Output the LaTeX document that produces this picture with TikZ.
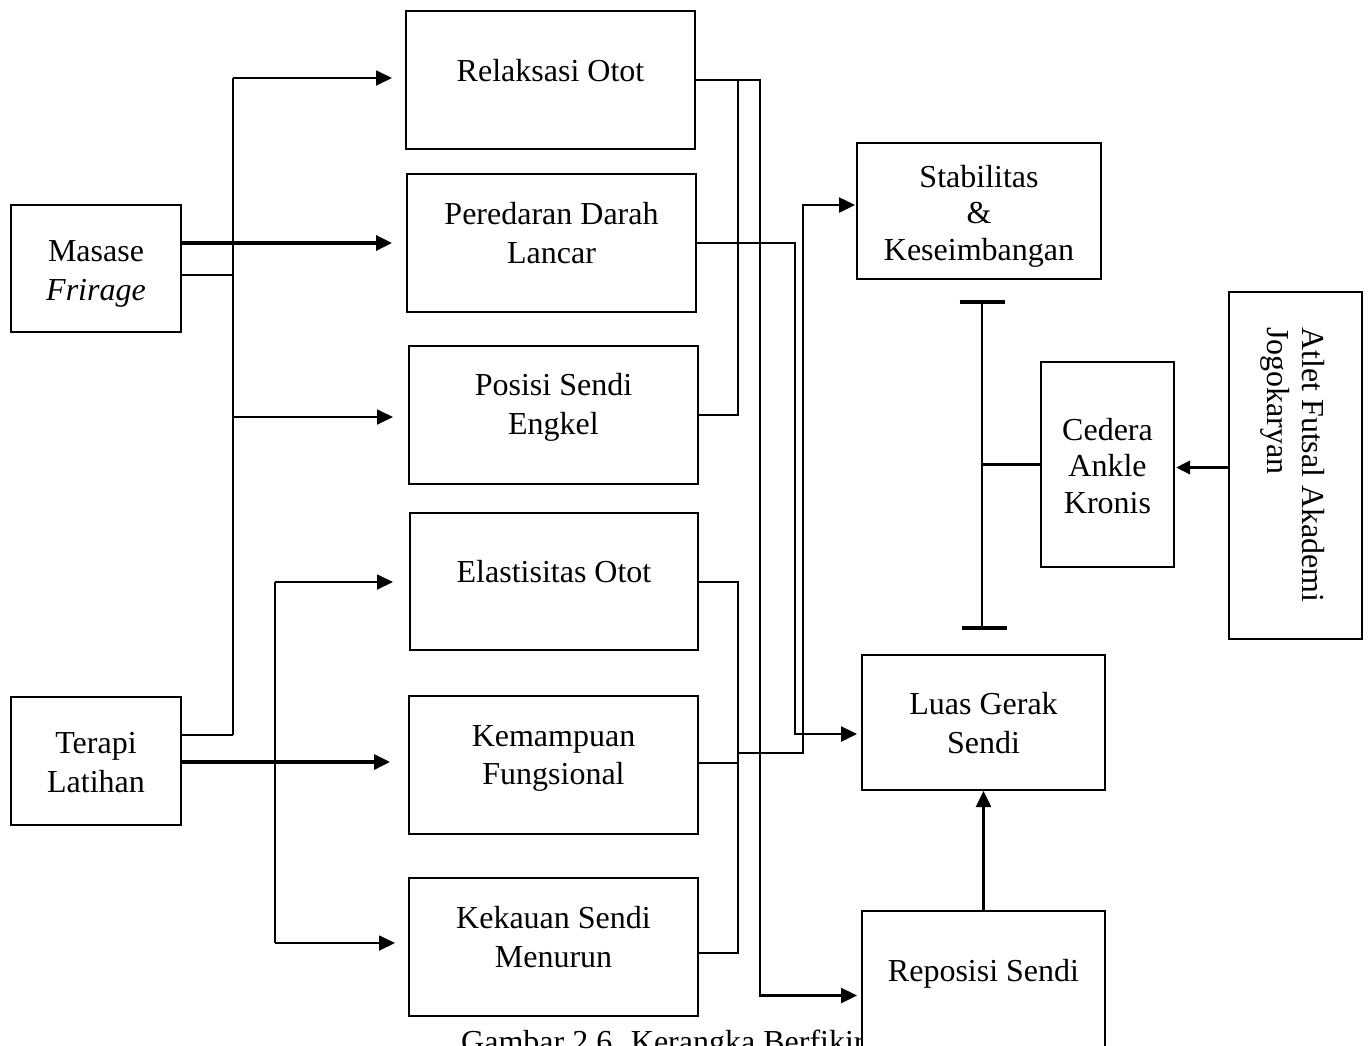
\documentclass[tikz,border=0pt]{standalone}
\usepackage{fontspec}
\setmainfont{Liberation Serif}
\usetikzlibrary{arrows.meta}
\tikzset{
  box/.style={draw, line width=2.8pt, fill=white, inner sep=0pt, outer sep=0pt},
  lbl/.style={font=\fontsize{32}{39}\selectfont, align=center, inner sep=0pt, anchor=base},
  lbltight/.style={font=\fontsize{32}{36.5}\selectfont, align=center, inner sep=0pt, anchor=base},
  thinconn/.style={line width=1.8pt},
  conn/.style={line width=2.5pt},
  thickconn/.style={line width=3.4pt},
  arr/.style={-{Triangle[length=16pt,width=15pt]}},
  tbar/.style={line width=4.5pt}
}
\begin{document}
\begin{tikzpicture}[x=1pt,y=-1pt]
\useasboundingbox (0,0) rectangle (1372,1045);
% caption (partly hidden, as in the source)
\node[font=\fontsize{32}{39}\selectfont, anchor=base west, inner sep=0pt] (cap) at (461,1052) {Gambar 2.6. Kerangka Berfikir};

% boxes
\node[box, minimum width=289pt, minimum height=138pt] (r1) at (550.5,80) {};
\node[box, minimum width=289pt, minimum height=138pt] (r2) at (551.5,243) {};
\node[box, minimum width=289pt, minimum height=138pt] (r3) at (553.5,415) {};
\node[box, minimum width=288pt, minimum height=137pt] (r4) at (554,581.5) {};
\node[box, minimum width=289pt, minimum height=138pt] (r5) at (553.5,765) {};
\node[box, minimum width=289pt, minimum height=138pt] (r6) at (553.5,947) {};
\node[box, minimum width=170pt, minimum height=127pt] (m) at (96,268.5) {};
\node[box, minimum width=170pt, minimum height=128pt] (t) at (96,761) {};
\node[box, minimum width=244pt, minimum height=136pt] (s) at (979,211) {};
\node[box, minimum width=133pt, minimum height=205pt] (c) at (1107.5,464.5) {};
\node[box, minimum width=133pt, minimum height=347pt] (a) at (1295.5,465.5) {};
\node[box, minimum width=243pt, minimum height=135pt] (l) at (983.5,722.5) {};
\node[box, minimum width=243pt, minimum height=169pt] (p) at (983.5,995.5) {};

% labels (anchor base = baseline of the last line)
\node[lbl] (tr1) at (550.5,81) {Relaksasi Otot};
\node[lbl] (tr2) at (551.5,263) {Peredaran Darah\\Lancar};
\node[lbl] (tr3) at (553.5,434) {Posisi Sendi\\Engkel};
\node[lbl] (tr4) at (554,582) {Elastisitas Otot};
\node[lbl, font=\fontsize{32}{38}\selectfont] (tr5) at (553.5,784) {Kemampuan\\Fungsional};
\node[lbl] (tr6) at (553.5,967) {Kekauan Sendi\\Menurun};
\node[lbl] (tm) at (96,300) {Masase\\\textit{Frirage}};
\node[lbl] (tt) at (96,792) {Terapi\\Latihan};
\node[lbltight] (ts) at (979,260) {Stabilitas\\\&\\Keseimbangan};
\node[lbltight] (tc) at (1107.5,513) {Cedera\\Ankle\\Kronis};
\node[lbl] (tl) at (983.5,753) {Luas Gerak\\Sendi};
\node[lbl] (tp) at (983.5,981) {Reposisi Sendi};
\node[font=\fontsize{32}{35.5}\selectfont, align=left, inner sep=0pt, anchor=base west, rotate=-90] (ta) at (1267,327) {Atlet Futsal Akademi\\Jogokaryan};

% left junction coordinates
\coordinate (jm) at (233,275);
\coordinate (v1a) at (233,78);
\coordinate (v1b) at (233,417);
\coordinate (v1c) at (233,735);
\coordinate (v2a) at (275,582);
\coordinate (v2b) at (275,943);

% Masase / Terapi connectors
\draw[thickconn, arr, shorten >=15pt] (m.east |- r2) -- (r2.west);
\draw[thinconn] ([yshift=-6.5pt]m.east) -- (jm);
\draw[thinconn] (v1a) -- (v1c);
\draw[thinconn, arr, shorten >=14pt] (v1a) -- (v1a -| r1.west);
\draw[thinconn, arr, shorten >=16pt] (v1b) -- (v1b -| r3.west);
\draw[thinconn] ([yshift=26pt]t.east) -- (v1c);
\draw[thickconn, arr, shorten >=19pt] ([yshift=-1pt]t.east) -- ([yshift=-1pt]t.east -| r5.west);
\draw[thinconn] (v2a) -- (v2b);
\draw[thinconn, arr, shorten >=17pt] (v2a) -- (v2a -| r4.west);
\draw[thinconn, arr, shorten >=14pt] (v2b) -- (v2b -| r6.west);

% right junction coordinates
\coordinate (k1) at (760,80);
\coordinate (k2) at (760,995.5);
\coordinate (u1) at (738,80);
\coordinate (u2) at (738,415);
\coordinate (q1) at (795,243);
\coordinate (q2) at (795,734);
\coordinate (w1) at (738,582);
\coordinate (w2) at (738,953);
\coordinate (w3) at (738,753);
\coordinate (w4) at (803,753);
\coordinate (w5) at (803,205);

\draw[conn, arr, shorten >=5pt] (r1.east) -- (k1) -- (k2) -- (p.west);
\draw[conn] (u1) -- (u2) -- (r3.east);
\draw[conn, arr, shorten >=5pt] (r2.east) -- (q1) -- (q2) -- (q2 -| l.west);
\draw[conn] ([yshift=-0.5pt]r4.east) -- (w1) -- (w2) -- ([yshift=-6pt]r6.east);
\draw[conn] ([yshift=2pt]r5.east) -- ([yshift=2pt]r5.east -| w1);
\draw[conn, arr, shorten >=2pt] (w3) -- (w4) -- (w5) -- (w5 -| s.west);

% T-bar
\coordinate (tb1) at (982,302);
\coordinate (tb2) at (982,628);
\draw[conn] (tb1) -- (tb2);
\draw[tbar] ([xshift=-22.5pt]tb1) -- ([xshift=22.5pt]tb1);
\draw[tbar] ([xshift=-20pt]tb2) -- ([xshift=25pt]tb2);
\draw[conn] (c.west) -- (c.west -| tb1);

\draw[thickconn, -{Triangle[length=14pt,width=13pt]}, shorten >=2pt] ([yshift=-2pt]a.west) -- ([yshift=-2pt]a.west -| c.east);
\draw[conn, arr, shorten >=1pt] (p.north) -- (l.south);
\end{tikzpicture}
\end{document}
